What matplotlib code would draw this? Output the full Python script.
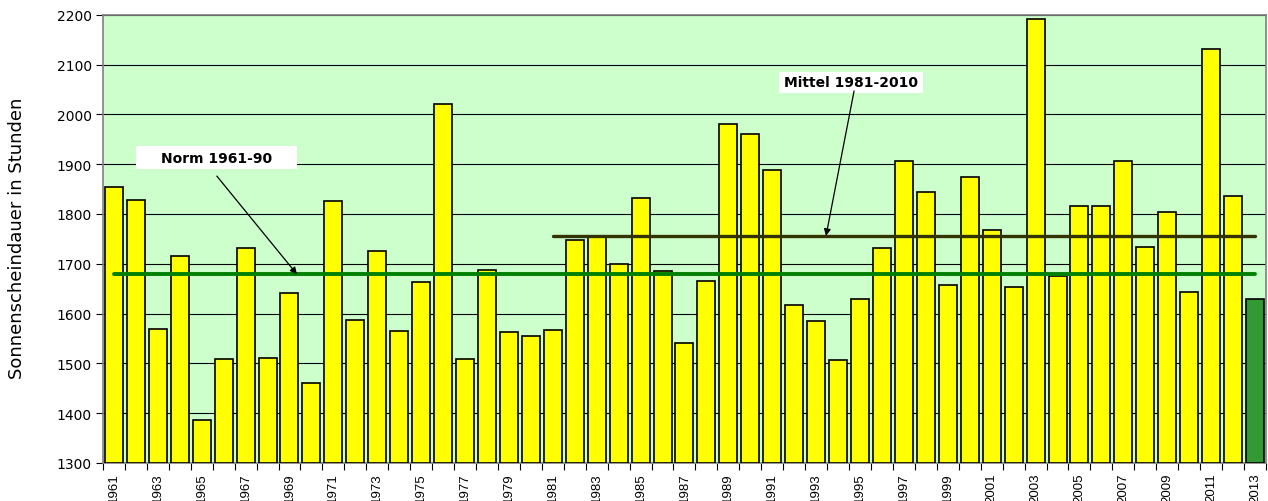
import matplotlib
matplotlib.use("Agg")
import matplotlib.pyplot as plt
from matplotlib.patches import Rectangle
import numpy as np

plt.rcParams['font.family'] = ['Liberation Sans', 'DejaVu Sans']

years = list(range(1961, 2014))
sunshine = [1855, 1828, 1570, 1715, 1387, 1508, 1731, 1511, 1642, 1461,
            1827, 1588, 1725, 1565, 1664, 2020, 1508, 1687, 1563, 1554,
            1567, 1747, 1756, 1699, 1833, 1686, 1541, 1666, 1980, 1960,
            1889, 1617, 1585, 1507, 1630, 1732, 1906, 1844, 1658, 1874,
            1768, 1653, 2191, 1675, 1816, 1816, 1907, 1734, 1804, 1644,
            2131, 1836, 1630]
norm_value = 1679
norm_years = (1961, 2013)
mittel_value = 1756
mittel_years = (1981, 2013)
yticks = list(range(1300, 2201, 100))
ylabel = "Sonnenscheindauer in Stunden"
norm_label = "Norm 1961-90"
mittel_label = "Mittel 1981-2010"

fig = plt.figure(figsize=(12.68, 5.02), dpi=100)
ax = fig.add_axes([0.0812, 0.0757, 0.9172, 0.893])
ax.set_facecolor('#CCFFCC')

x = np.arange(len(years))
colors = ['#FFFF00'] * (len(years) - 1) + ['#339933']
ax.bar(x, [v - 1300 for v in sunshine], bottom=1300, width=0.82,
       color=colors, edgecolor='black', linewidth=1.2, zorder=3)

ax.set_ylim(1300, 2200)
ax.set_xlim(-0.5, len(years) - 0.5)
ax.set_yticks(yticks)
ax.set_yticklabels([str(t) for t in yticks], fontsize=10, family='DejaVu Sans')
ax.yaxis.grid(True, color='black', linewidth=0.8, zorder=0)
ax.set_axisbelow(True)

# x labels every second year at bar centres, ticks at slot boundaries
lab_idx = [i for i, y in enumerate(years) if (y - 1961) % 2 == 0]
ax.set_xticks(lab_idx)
ax.set_xticklabels([str(years[i]) for i in lab_idx], rotation=90, fontsize=9.5)
ax.tick_params(axis='x', which='major', length=0, pad=7)
ax.set_xticks(np.arange(-0.5, len(years) + 0.5, 1), minor=True)
ax.tick_params(axis='x', which='minor', length=5, width=0.8, direction='out')
ax.tick_params(axis='y', length=5, width=0.8, direction='out', pad=3)

for s in ax.spines.values():
    s.set_color('#808080')
    s.set_linewidth(1.2)

ax.set_ylabel(ylabel, fontsize=13, family='DejaVu Sans')
ax.yaxis.set_label_coords(-0.066, 0.504)

# reference lines
i0, i1 = years.index(norm_years[0]), years.index(norm_years[1])
ax.plot([i0, i1], [norm_value, norm_value], color='#008000', linewidth=2.8,
        zorder=4, solid_capstyle='round')
j0, j1 = years.index(mittel_years[0]), years.index(mittel_years[1])
ax.plot([j0, j1], [mittel_value, mittel_value], color='#333300', linewidth=2.4,
        zorder=4, solid_capstyle='round')

# label boxes
ax.add_patch(Rectangle((1.0, 1890), 7.34, 46, facecolor='white',
                       edgecolor='none', zorder=6))
ax.text(4.67, 1913, norm_label, fontsize=10, fontweight='bold',
        family='DejaVu Sans', ha='center', va='center', zorder=7)
ax.annotate('', xy=(8.34, norm_value), xytext=(4.69, 1876),
            arrowprops=dict(arrowstyle='-|>', color='black', lw=0.9,
                            mutation_scale=10, shrinkA=0, shrinkB=0), zorder=7)

ax.add_patch(Rectangle((30.31, 2043), 6.56, 42, facecolor='white',
                       edgecolor='none', zorder=6))
ax.text(33.59, 2064, mittel_label, fontsize=10, fontweight='bold',
        family='DejaVu Sans', ha='center', va='center', zorder=7)
ax.annotate('', xy=(32.45, mittel_value), xytext=(33.73, 2047),
            arrowprops=dict(arrowstyle='-|>', color='black', lw=0.9,
                            mutation_scale=10, shrinkA=0, shrinkB=0), zorder=7)

fig.savefig('out.png', dpi=100, facecolor='white')
